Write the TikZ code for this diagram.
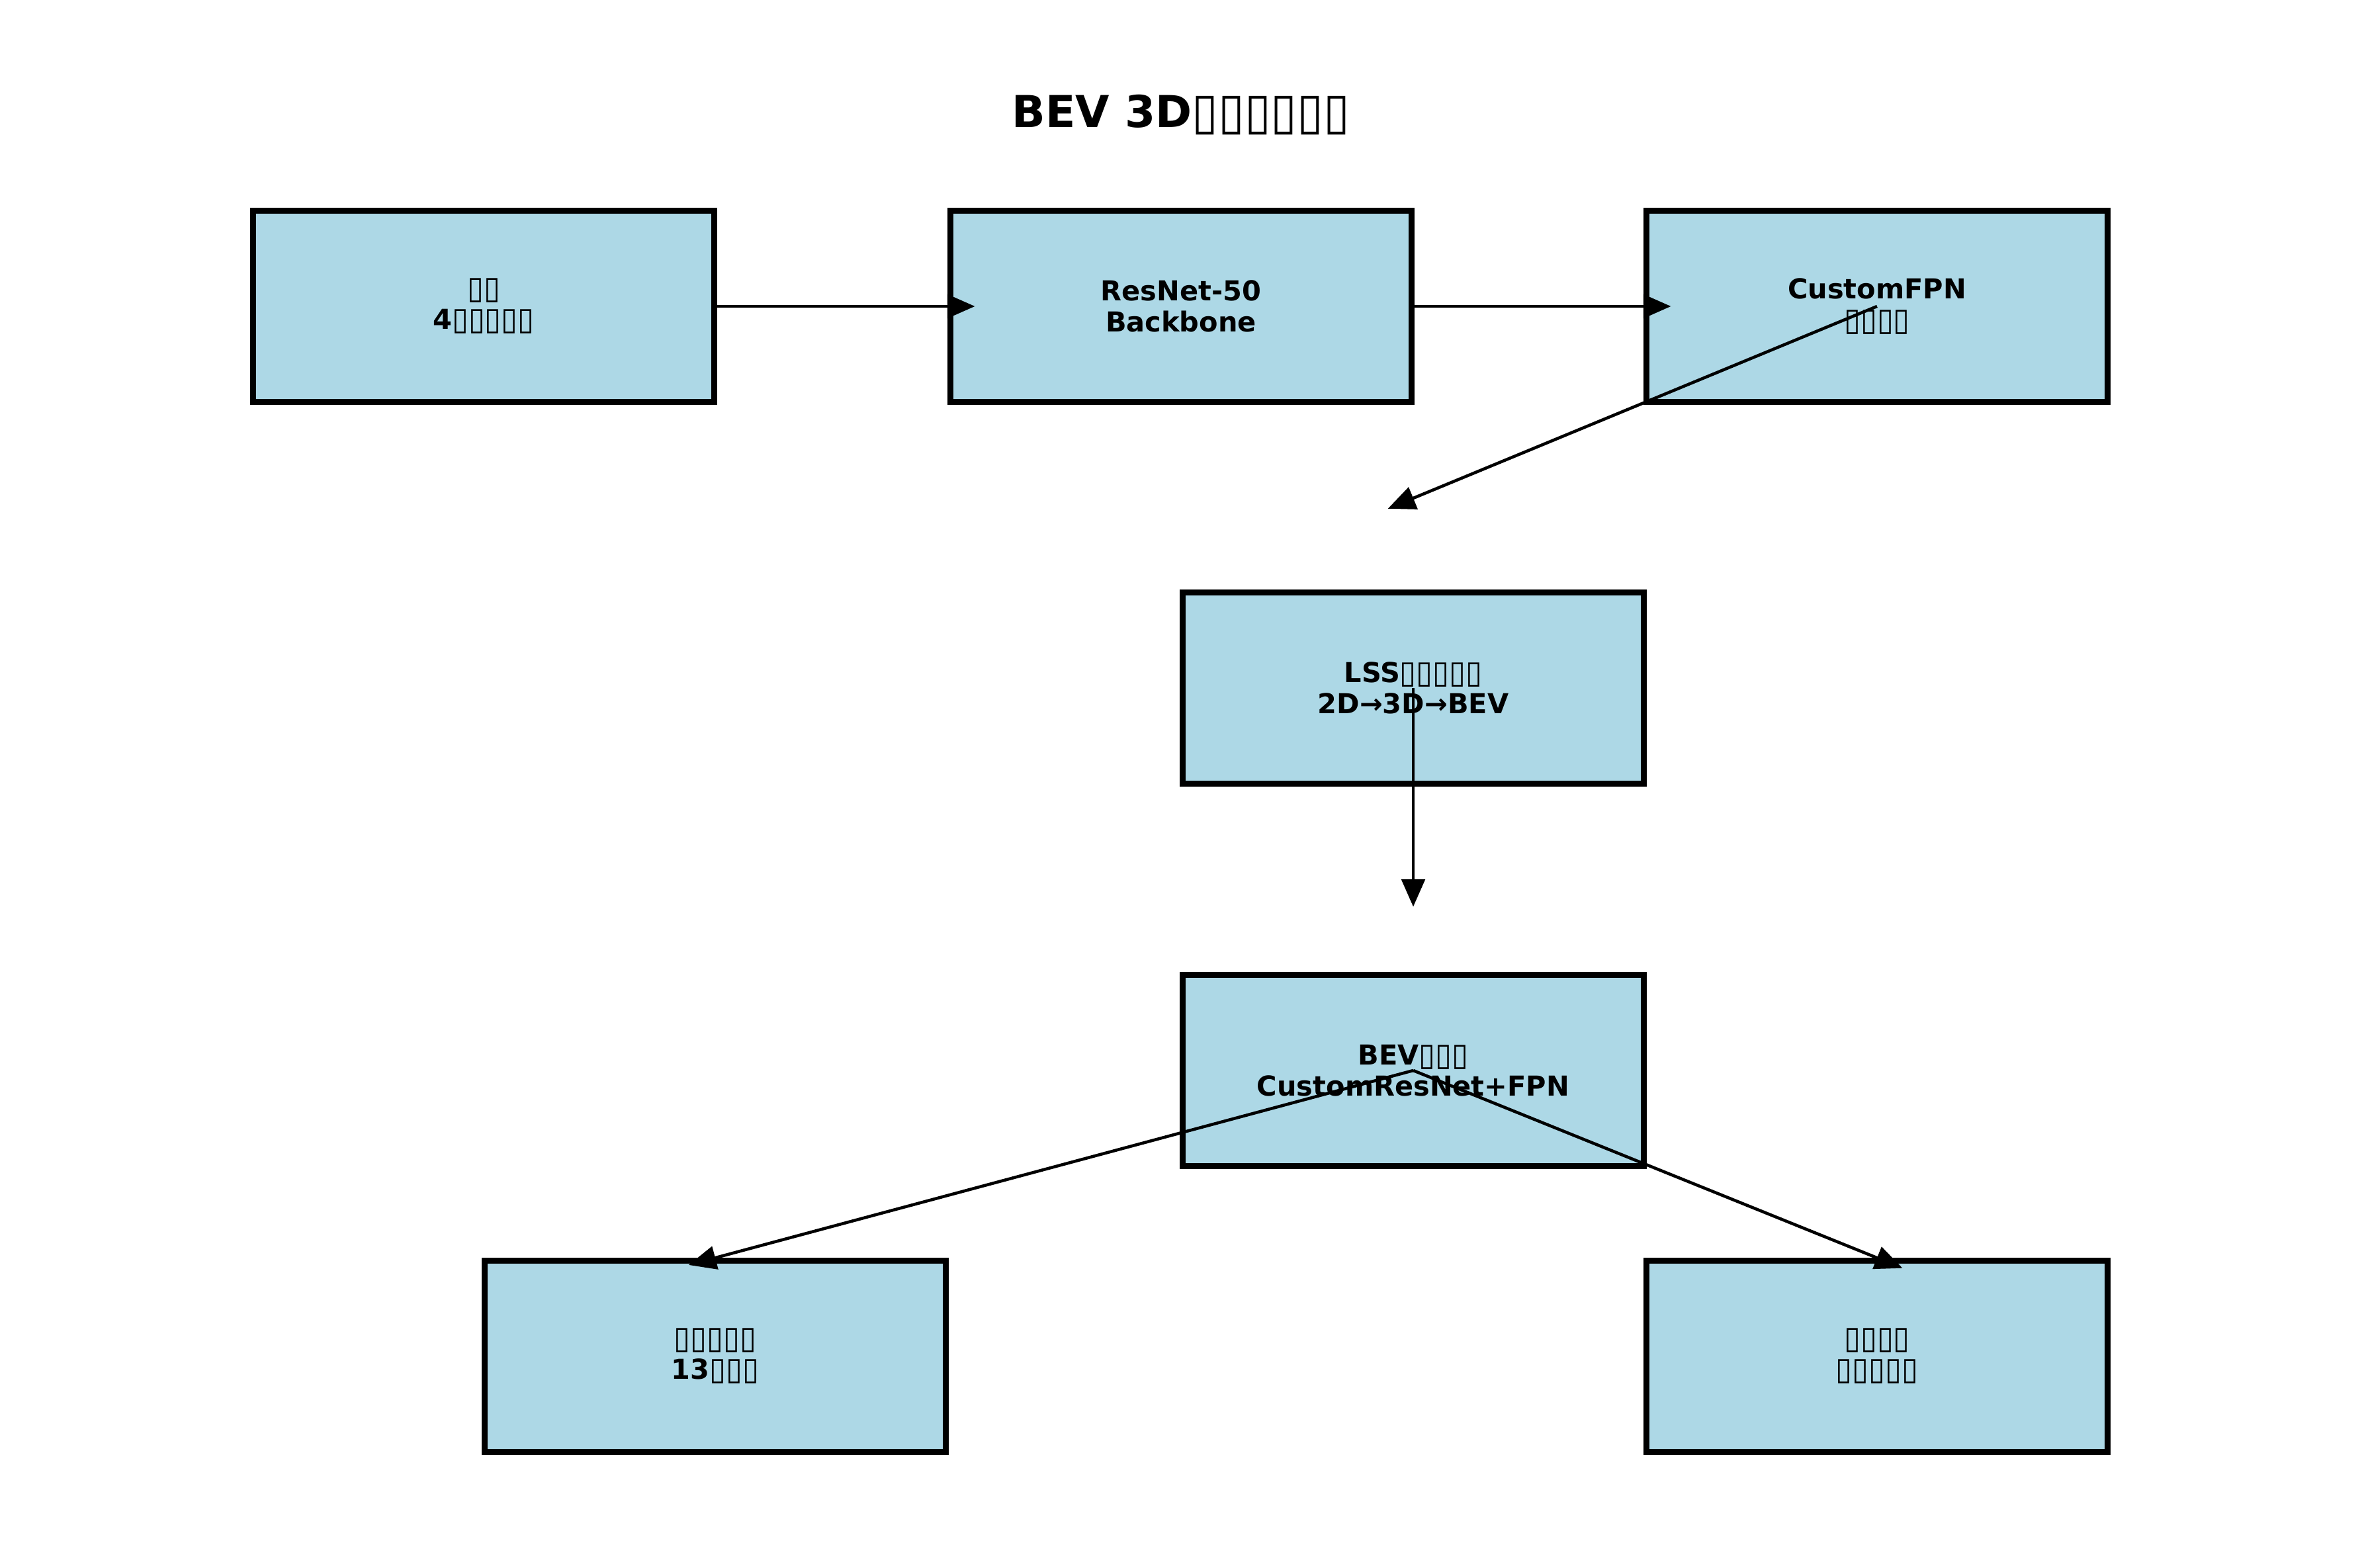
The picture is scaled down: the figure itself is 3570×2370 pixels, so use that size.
\documentclass[tikz,border=0pt]{standalone}
\usepackage{fontspec}
\setmainfont{DejaVu Sans}
\usetikzlibrary{arrows.meta}
\definecolor{boxblue}{HTML}{ADD8E6}
\newcommand{\tf}{\raisebox{-0.17em}{\resizebox*{0.6em}{0.88em}{\raisebox{\depth}{\mdseries ▯}}}}

\begin{document}
\begin{tikzpicture}[x=0.084667mm,y=-0.084667mm]
    \tikzset{blk/.style={draw=black,line width=2.1pt,fill=boxblue,minimum width=168pt,minimum height=69.6pt,
        align=center,inner sep=0pt,font=\bfseries\fontsize{10}{11.3}\selectfont},
      arr/.style={-{Triangle[length=10pt,width=8.5pt]},line width=1.1pt,shorten >=-10pt}}
    \useasboundingbox (0,0) rectangle (3570,2370);

    \node[anchor=base,font=\bfseries\fontsize{16}{19}\selectfont] (title) at (1785,193) {BEV 3D\tf\tf\tf\tf\tf\tf};
    \node[blk] (input) at (731,463) {\tf\tf\\4\tf\tf\tf\tf\tf};
    \node[blk] (backbone) at (1785,463) {ResNet-50\\Backbone};
    \node[blk] (fpn) at (2837,463) {CustomFPN\\\tf\tf\tf\tf};
    \node[blk] (lss) at (2136,1040) {LSS\tf\tf\tf\tf\tf\\2D→3D→BEV};
    \node[blk] (bev) at (2136,1618) {BEV\tf\tf\tf\\CustomResNet+FPN};
    \node[blk] (det) at (1081,2050) {\tf\tf\tf\tf\tf\\13\tf\tf\tf};
    \node[blk] (out) at (2837,2050) {\tf\tf\tf\tf\\\tf\tf\tf\tf\tf};
    \coordinate (lssin) at (2136,753);
    \coordinate (bevin) at (2136,1329);

    \draw[arr] (input.east) -- (backbone.west);
    \draw[arr] (backbone.east) -- (fpn.west);
    \draw[arr] (fpn.center) -- (lssin);
    \draw[arr] (lss.center) -- (bevin);
    \draw[arr] (bev.center) -- (det.north);
    \draw[arr] (bev.center) -- (out.north);
\end{tikzpicture}
\end{document}
